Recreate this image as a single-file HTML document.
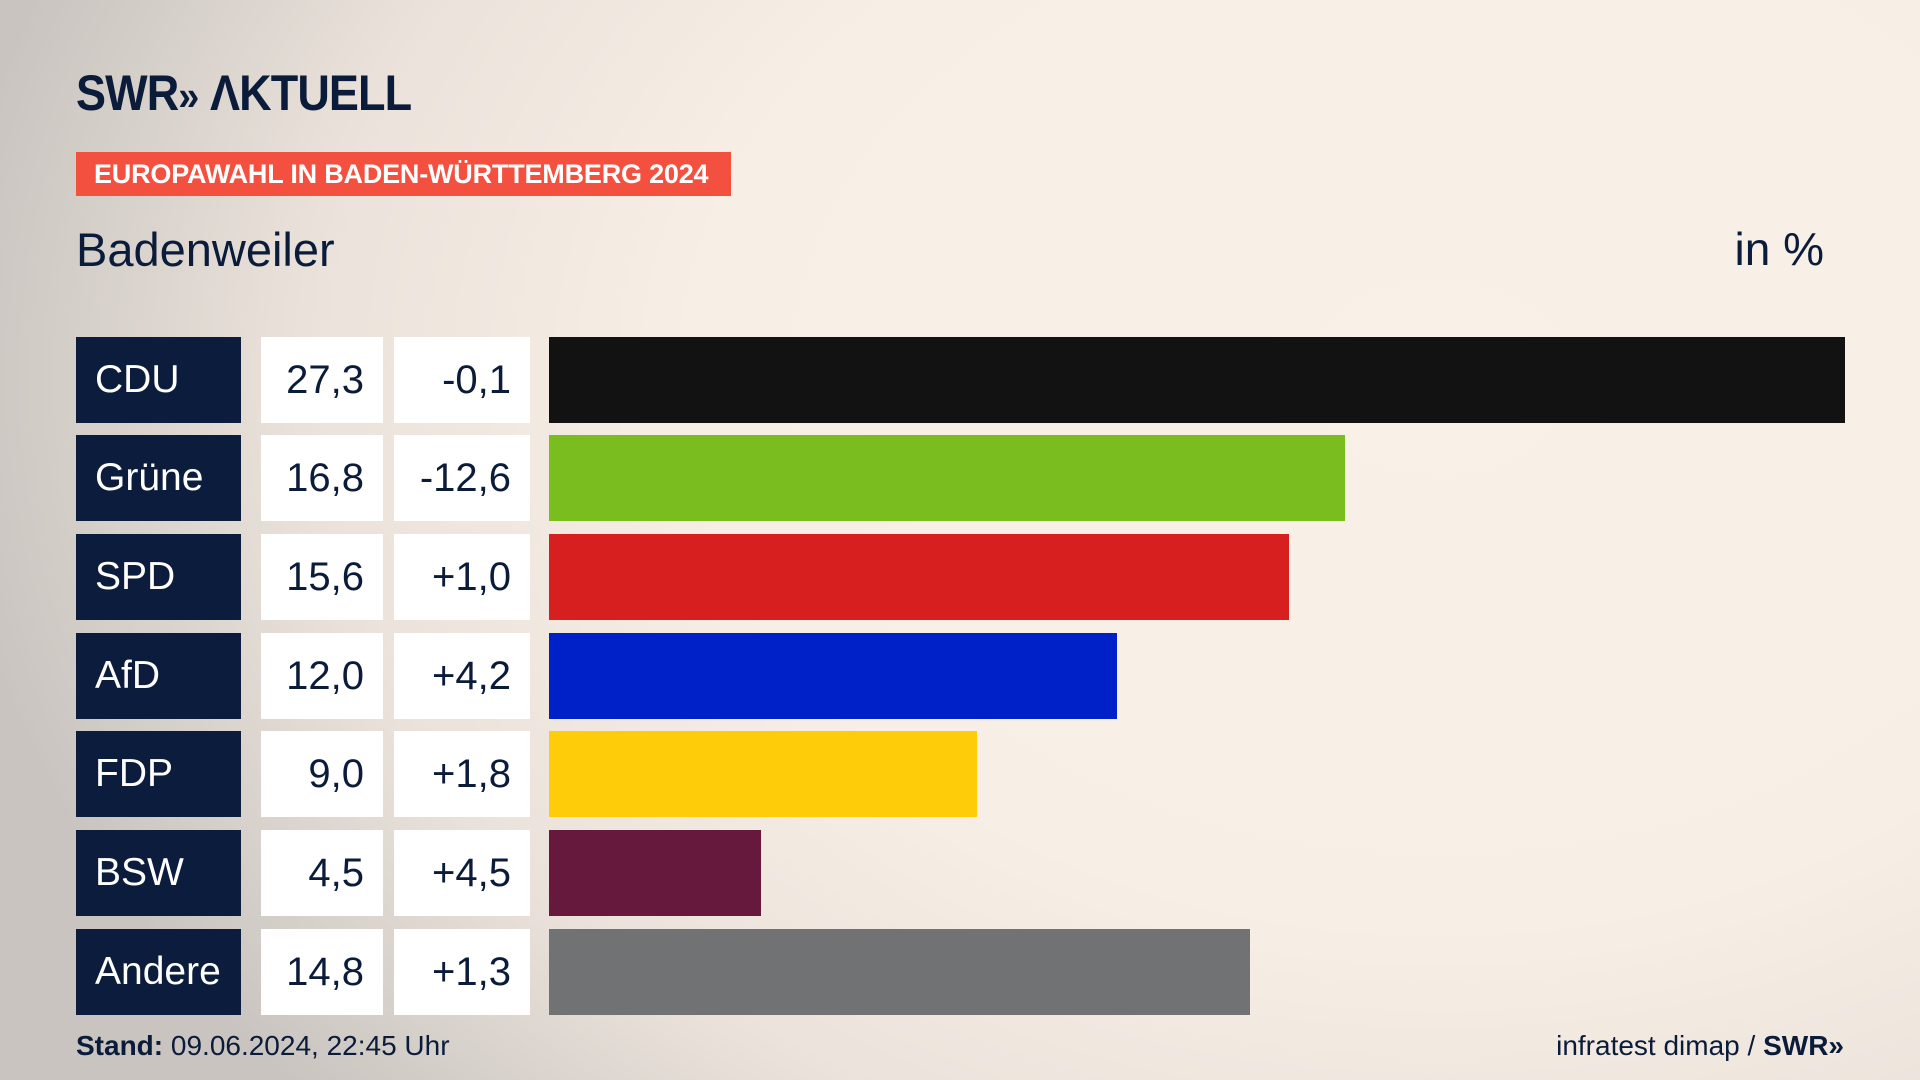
<!DOCTYPE html>
<html><head><meta charset="utf-8"><style>
*{margin:0;padding:0;box-sizing:border-box}
body{width:1920px;height:1080px;overflow:hidden;position:relative;font-family:"Liberation Sans","DejaVu Sans",sans-serif;
background:radial-gradient(ellipse 1500px 1100px at 75% 35%,#f9f1e7 0%,#f7efe5 50%,#ebe3db 75%,#c9c4c0 100%);}
.abs{position:absolute}
.logo{left:76px;top:68px;font-size:50px;font-weight:bold;color:#0b1c3a;letter-spacing:-1px;line-height:50px;transform:scaleX(0.9);transform-origin:left}
.banner{left:76px;top:152px;width:655px;height:44px;background:#f4503f;color:#fff;font-weight:bold;font-size:27px;line-height:44px;padding-left:18px;white-space:nowrap;letter-spacing:-0.2px}
.title{left:76px;top:222px;font-size:47px;color:#0b1c3a}
.unit{right:96px;top:222px;font-size:46px;color:#0b1c3a}
.lab{left:76px;width:165px;height:86px;background:#0c1c3c;color:#fff;font-size:39px;line-height:86px;padding-left:19px}
.val{left:261px;width:122px;height:86px;background:#fff;color:#0b1c3a;font-size:40px;line-height:86px;text-align:right;padding-right:19px}
.dif{left:394px;width:136px;height:86px;background:#fff;color:#0b1c3a;font-size:40px;line-height:86px;text-align:right;padding-right:19px}
.bar{left:549px;height:86px}
.foot{top:1030px;font-size:28px;color:#0b1c3a}
</style></head><body>
<div class="abs logo">SWR<span style="font-size:42px">»</span> ΛKTUELL</div>
<div class="abs banner">EUROPAWAHL IN BADEN-WÜRTTEMBERG 2024</div>
<div class="abs title">Badenweiler</div>
<div class="abs unit">in %</div>

<div class="abs lab" style="top:337px">CDU</div><div class="abs val" style="top:337px">27,3</div><div class="abs dif" style="top:337px">-0,1</div><div class="abs bar" style="top:337px;width:1296px;background:#121212"></div>
<div class="abs lab" style="top:435px">Grüne</div><div class="abs val" style="top:435px">16,8</div><div class="abs dif" style="top:435px">-12,6</div><div class="abs bar" style="top:435px;width:796px;background:#7abd1e"></div>
<div class="abs lab" style="top:534px">SPD</div><div class="abs val" style="top:534px">15,6</div><div class="abs dif" style="top:534px">+1,0</div><div class="abs bar" style="top:534px;width:740px;background:#d71f1f"></div>
<div class="abs lab" style="top:633px">AfD</div><div class="abs val" style="top:633px">12,0</div><div class="abs dif" style="top:633px">+4,2</div><div class="abs bar" style="top:633px;width:568px;background:#0021c8"></div>
<div class="abs lab" style="top:731px">FDP</div><div class="abs val" style="top:731px">9,0</div><div class="abs dif" style="top:731px">+1,8</div><div class="abs bar" style="top:731px;width:428px;background:#ffcc0a"></div>
<div class="abs lab" style="top:830px">BSW</div><div class="abs val" style="top:830px">4,5</div><div class="abs dif" style="top:830px">+4,5</div><div class="abs bar" style="top:830px;width:212px;background:#67183d"></div>
<div class="abs lab" style="top:929px">Andere</div><div class="abs val" style="top:929px">14,8</div><div class="abs dif" style="top:929px">+1,3</div><div class="abs bar" style="top:929px;width:701px;background:#717273"></div>

<div class="abs foot" style="left:76px"><b>Stand:</b> 09.06.2024, 22:45 Uhr</div>
<div class="abs foot" style="right:76px">infratest dimap / <b>SWR»</b></div>
</body></html>
